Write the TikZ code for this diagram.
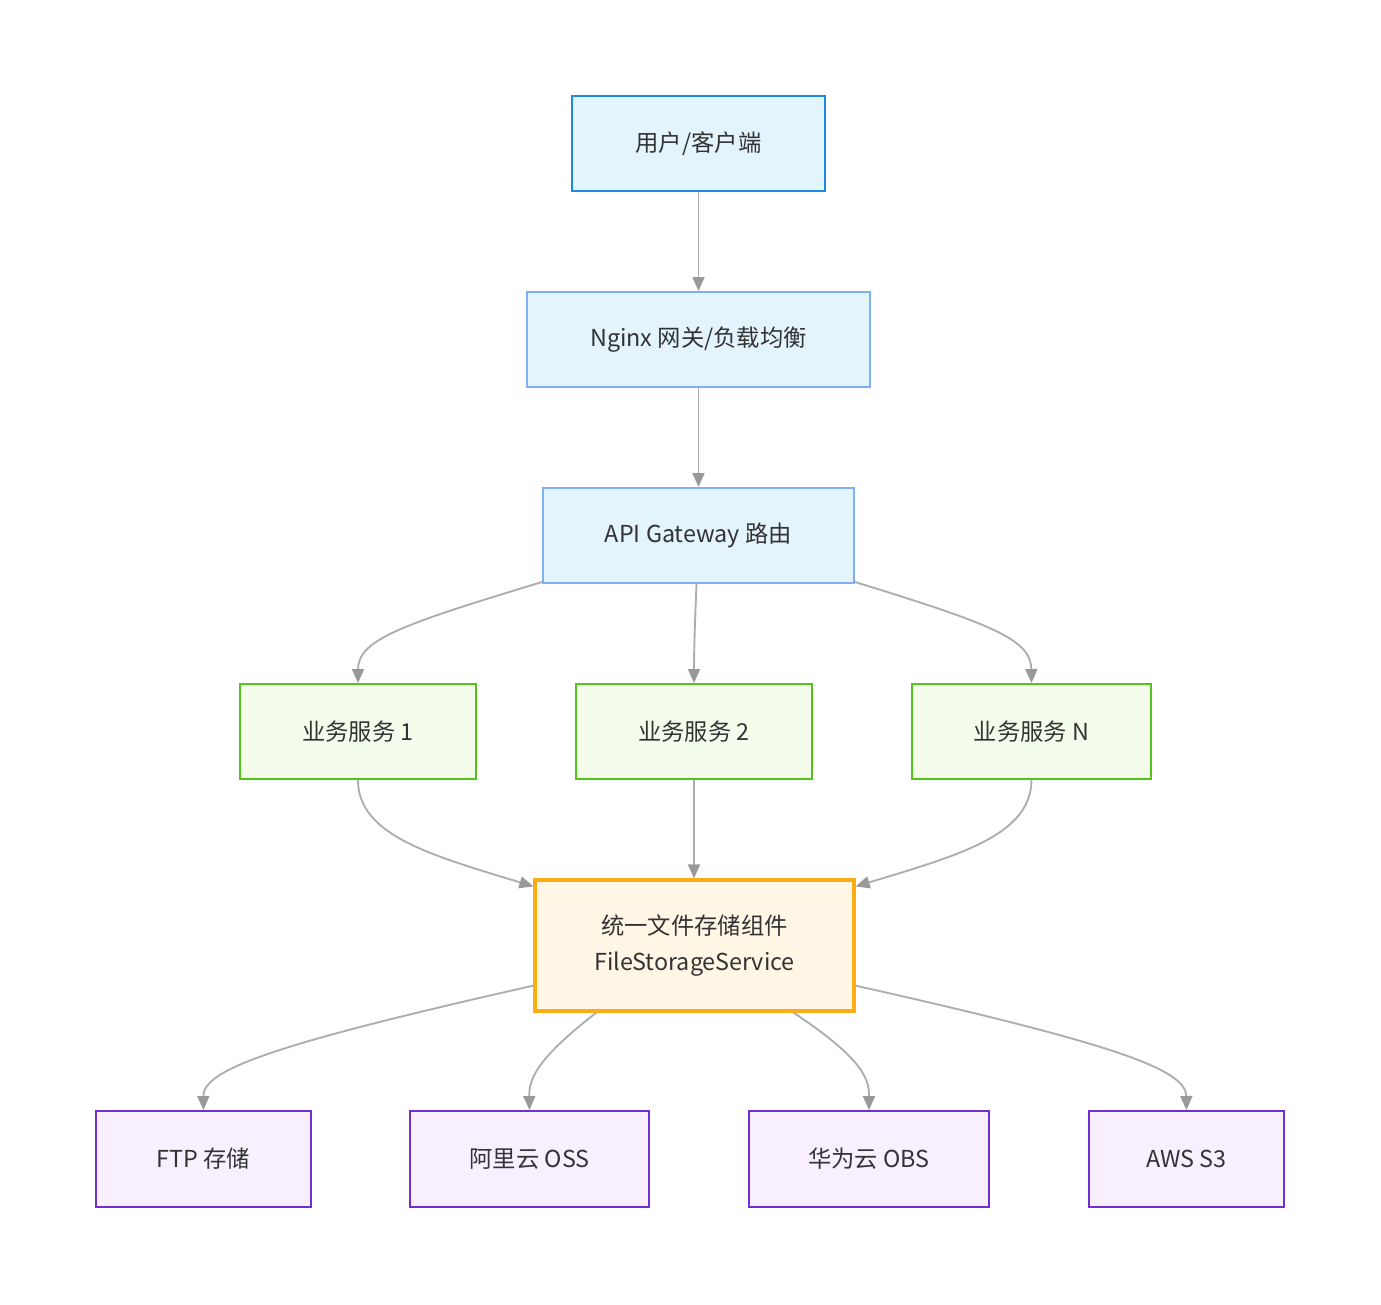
\documentclass[tikz,border=0pt]{standalone}
\usepackage{fontspec}
\setmainfont{Noto Sans CJK SC}
\usetikzlibrary{calc,arrows.meta}
\definecolor{txt}{HTML}{333333}
\definecolor{edge}{HTML}{ADADAD}
\definecolor{tip}{HTML}{999999}
\definecolor{blueA}{HTML}{1E88E5}
\definecolor{blueB}{HTML}{7FB0F5}
\definecolor{blueF}{HTML}{E3F4FD}
\definecolor{greenB}{HTML}{52C41A}
\definecolor{greenF}{HTML}{F4FDEC}
\definecolor{orangeB}{HTML}{FAAD14}
\definecolor{orangeF}{HTML}{FFF6E5}
\definecolor{purpleB}{HTML}{722ED1}
\definecolor{purpleF}{HTML}{F8F0FF}
\tikzset{
	box/.style={draw, rectangle, line width=1.5pt, text=txt, align=center, font=\fontsize{17.5}{27}\selectfont, minimum height=71.25pt},
	clientbox/.style={box, draw=blueA, fill=blueF},
	gatebox/.style={box, draw=blueB, fill=blueF},
	svcbox/.style={box, draw=greenB, fill=greenF},
	corebox/.style={box, draw=orangeB, fill=orangeF, line width=2.4pt, minimum height=98.25pt},
	storebox/.style={box, draw=purpleB, fill=purpleF, minimum height=72pt},
	flow/.style={draw=edge, line width=1.4pt, -{Triangle[length=10.5pt,width=9pt,fill=tip,color=tip]}}
}

\begin{document}
\begin{tikzpicture}[x=0.75pt, y=-0.75pt]
		%%%%% START %%%%%
		\useasboundingbox (0,0) rectangle (1381,1304);
		
		\node[clientbox, minimum width=190pt] (client) at (698.5,143.5) {用户/客户端};
		\node[gatebox, minimum width=257.25pt] (nginx) at (698.5,339.5) {Nginx 网关/负载均衡};
		\node[gatebox, minimum width=233.25pt] (api) at (698.5,535.5) {API Gateway 路由};
		
		\node[svcbox, minimum width=177pt] (svcA) at (358,731.5) {业务服务 1};
		\node[svcbox, minimum width=177pt] (svcB) at (694,731.5) {业务服务 2};
		\node[svcbox, minimum width=179.25pt] (svcN) at (1031.5,731.5) {业务服务 N};
		
		\node[corebox, minimum width=239.25pt] (core) at (694.5,945.5) {统一文件存储组件\\FileStorageService};
		
		\node[storebox, minimum width=161.25pt] (ftp) at (203.5,1159) {FTP 存储};
		\node[storebox, minimum width=179.25pt] (oss) at (529.5,1159) {阿里云 OSS};
		\node[storebox, minimum width=180pt] (obs) at (869,1159) {华为云 OBS};
		\node[storebox, minimum width=146.25pt] (s3) at (1186.5,1159) {AWS S3};
		
		\draw[flow] (client) -- (nginx);
		\draw[flow] (nginx) -- (api);
		
		\draw[flow] ($(api.south west)+(0,-2)$) .. controls (400,625) and (358,640) .. (svcA.north);
		\draw[flow] ($(api.south)+(-2,0)$) .. controls (695,620) and (694,650) .. (svcB.north);
		\draw[flow] ($(api.south east)+(0,-2)$) .. controls (995,625) and (1031,640) .. (svcN.north);
		
		\draw[flow] (svcA.south) .. controls (358,835) and (430,855) .. ($(core.north west)+(0,8)$);
		\draw[flow] (svcB.south) -- (core.north -| svcB.south);
		\draw[flow] (svcN.south) .. controls (1031,835) and (960,855) .. ($(core.north east)+(0,8)$);
		
		\draw[flow] ($(core.south west)+(0,-27)$) .. controls (270,1045) and (203,1070) .. (ftp.north);
		\draw[flow] ($(core.south west)+(63,0)$) .. controls (535,1060) and (529,1080) .. (oss.north);
		\draw[flow] ($(core.south west)+(260,0)$) .. controls (865,1060) and (869,1080) .. (obs.north);
		\draw[flow] ($(core.south east)+(0,-27)$) .. controls (1120,1045) and (1186,1070) .. (s3.north);
		
		%%%%% END %%%%%
\end{tikzpicture}
\end{document}
